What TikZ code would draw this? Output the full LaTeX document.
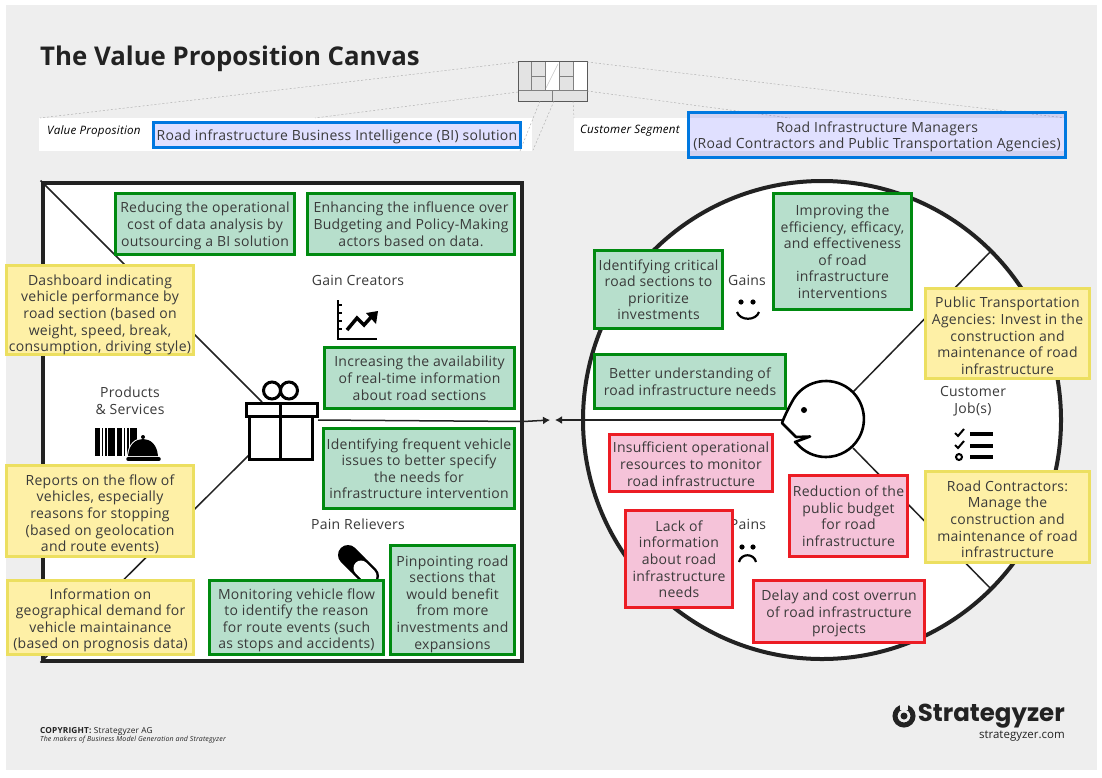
\documentclass[tikz,border=0pt]{standalone}
\usepackage{fontspec}
\setmainfont[LetterSpace=1.9]{Open Sans}
\newfontfamily\plainfont{Open Sans}
\newfontfamily\logofont{Poppins}
\usetikzlibrary{arrows.meta}
\definecolor{canvasbg}{HTML}{EEEEEE}
\definecolor{ink}{HTML}{3A3A3A}
\definecolor{heavy}{HTML}{222222}
\definecolor{gborder}{HTML}{008A10}
\definecolor{gfill}{HTML}{B7DFCC}
\definecolor{yborder}{HTML}{ECDF60}
\definecolor{yfill}{HTML}{FEF0A6}
\definecolor{rborder}{HTML}{EC1C24}
\definecolor{rfill}{HTML}{F5C3D9}
\definecolor{bborder}{HTML}{0078E0}
% name, x0, y0, x1, y1, style, text shift, text
\newcommand{\bx}[8]{\node[#6,minimum width={(#4-#2-3)*1pt},minimum height={(#5-#3-3)*1pt}] (#1) at ({(#2+#4)/2},{(#3+#5)/2}) {\raisebox{\dimexpr-#7pt-5.8pt\relax}[0pt][0pt]{\begin{tabular}{@{}c@{}}#8\end{tabular}}};}
\tikzset{
 x=1pt,y=-1pt,
 boxbase/.style={draw,line width=3pt,inner sep=0pt,text=ink,font=\fontsize{14}{16.6}\selectfont,rectangle},
 greenbox/.style={boxbase,draw=gborder,fill=gfill},
 yellowbox/.style={boxbase,draw=yborder,fill=yfill},
 redbox/.style={boxbase,draw=rborder,fill=rfill},
 bluebox/.style={boxbase,draw=bborder,fill=blue,fill opacity=.12,draw opacity=1,text opacity=1},
 lab/.style={align=center,inner sep=0pt,text=ink,font=\fontsize{14}{16.6}\selectfont},
 seglab/.style={anchor=west,inner sep=0pt,font=\fontsize{11.6}{13}\itshape\selectfont,text=black},
 divider/.style={draw=heavy,line width=1.5pt},
 ghost/.style={draw=gray!70,line width=.4pt,dashed,dash pattern=on 2pt off 2pt},
 icon/.style={draw=black,line width=3pt},
}
\begin{document}
\begin{tikzpicture}
\useasboundingbox (0,0) rectangle (1102,777);
\fill[white] (0,0) rectangle (1102,777);
\fill[canvasbg] (6,5) rectangle (1097,770);
% title
\node[anchor=west,inner sep=0pt,font=\plainfont\fontsize{25.8}{30}\bfseries\selectfont,text=heavy] (title) at (40,59) {The Value Proposition Canvas};
% segment strips
\fill[white] (39,118) rectangle (532,151);
\fill[white] (574,118) rectangle (1066,151);
% mini canvas
\fill[canvasbg!90!gray] (518,61) rectangle (587,101);
\fill[white] (545,61) rectangle (559,90);
\fill[white] (573,61) rectangle (587,90);
\draw[gray,line width=.7pt] (531.5,61) -- (531.5,90) (545,61) -- (545,90) (559,61) -- (559,90) (573,61) -- (573,90) (518,90) -- (587,90) (531.5,76) -- (545,76) (559,76) -- (573,76) (552,101) -- (552,90);
\draw[gray!45,line width=.5pt] (546,88) -- (558,64);
\draw[black!65,line width=.8pt] (518,61) rectangle (587,101);
\coordinate (mNW) at (518,62);
\coordinate (mSW) at (518,92);
\coordinate (mNE) at (587,62);
\coordinate (mSE) at (587,91);
\coordinate (mA) at (540,101);
\coordinate (mB) at (554,101);
\coordinate (mC) at (573,101);
\coordinate (vpA) at (40,118);
\coordinate (vpB) at (315,118);
\coordinate (vpC) at (520,151);
\coordinate (vpD) at (533,150);
\coordinate (csA) at (574,118);
\coordinate (csB) at (1066,118);
\coordinate (csC) at (790,118);
\draw[ghost] (mNW) -- (vpA) (mSW) -- (vpB) (mA) -- (vpC) (mB) -- (vpD) (mC) -- (csA) (mNE) -- (csB) (mSE) -- (csC);
\node[seglab] (vplabel) at (47,131) {Value Proposition};
\node[seglab] (cslabel) at (580,131) {Customer Segment};
\bx{vpname}{152}{121}{522}{149}{bluebox}{0}{Road infrastructure Business Intelligence (BI) solution}
\bx{csname}{687}{111}{1067}{159}{bluebox}{0}{Road Infrastructure Managers\\(Road Contractors and Public Transportation Agencies)}
% main shapes
\node[draw=heavy,fill=white,line width=4pt,minimum width=479pt,minimum height=478pt,inner sep=0pt] (vp) at (282,421.5) {};
\node[circle,draw=heavy,fill=white,line width=4pt,minimum size=478pt,inner sep=0pt] (cs) at (822,420) {};
% gift anchors
\coordinate (giftNW) at (262,402);
\coordinate (giftSW) at (249,455);
\coordinate (giftE) at (318,420);
\coordinate (faceW) at (782,420);
\coordinate (tipL) at (550,420);
\coordinate (tipR) at (555,420);
\coordinate (jobNE) at (992,250);
\coordinate (jobSE) at (992,590);
\coordinate (faceNE) at (853,392);
\coordinate (faceSE) at (853,448);
\draw[divider] (vp.north west) -- (giftNW);
\draw[divider] (vp.south west) -- (giftSW);
\draw[divider] (giftE) -- (vp.east);
\draw[divider] (faceNE) -- (jobNE);
\draw[divider] (faceSE) -- (jobSE);
\draw[divider,-{Latex[length=7pt,width=8pt]}] (vp.east) -- (tipL);
\draw[divider,-{Latex[length=7pt,width=8pt]}] (faceW) -- (tipR);
% gift icon
\draw[icon,fill=white] (249,416) rectangle (312,459);
\draw[icon] (280.5,416) -- (280.5,459);
\draw[icon,fill=white] (246,403) rectangle (317,416);
\draw[icon] (280.5,403) -- (280.5,416);
\draw[icon] (272,390.5) circle[radius=8.5pt] (289,390.5) circle[radius=8.5pt];
% labels
\node[lab] (gc) at (358,280) {Gain Creators};
\node[lab] (ps) at (130,401) {Products\\\& Services};
\node[lab] (pr) at (358,524) {Pain Relievers};
\node[lab] (ga) at (747,280) {Gains};
\node[lab] (pa) at (748,524) {Pains};
\node[lab] (cj) at (973,401) {Customer\\Job(s)};
% chart icon
\draw[black,line width=2pt] (338,300) -- (338,339) -- (377,339);
\draw[black,line width=1.4pt] (338,305) -- (342,305) (338,313) -- (342,313) (338,321) -- (342,321) (338,329) -- (342,329);
\draw[black,line width=3.5pt] (347,330) -- (357,318) -- (364,325) -- (373,315);
\fill[black] (378,311) -- (366,313) -- (376,324) -- cycle;
% barcode + cloche icon
\foreach \xa/\xb in {95/100,101.5/103,105/107,108/115,117/122,123.5/125,127/128.5,130/137}{\fill[black] (\xa,428) rectangle (\xb,456);}
\draw[white,line width=2pt,fill=black] (128,456) .. controls (129,444) and (136,439) .. (143,439) .. controls (150,439) and (157,444) .. (158,456) -- cycle;
\fill[black] (128,456) .. controls (129,444) and (136,439) .. (143,439) .. controls (150,439) and (157,444) .. (158,456) -- cycle;
\fill[black] (143,437) circle[radius=2pt];
\draw[black,line width=3.5pt,line cap=round] (128,459) -- (159,459);
% pill icon
\draw[black,line width=20pt,line cap=round] (348,555) -- (358,565);
\draw[black,line width=20pt,line cap=round] (360,567) -- (369,576);
\draw[white,line width=15pt,line cap=round] (361,568) -- (369,576);
% smile
\fill[black] (741,302) circle[radius=2.6pt] (753,302) circle[radius=2.6pt];
\draw[black,line width=2.2pt] (737,312) .. controls (740,321) and (756,321) .. (759,312);
% frown
\fill[black] (742,547) circle[radius=2.6pt] (753,547) circle[radius=2.6pt];
\draw[black,line width=2.2pt] (739,562) .. controls (741,553) and (754,553) .. (756,562);
% checklist
\draw[black,line width=2pt] (955,433) -- (958,436) -- (964,429) (955,445) -- (958,448) -- (964,441);
\draw[black,line width=2pt] (959,457) circle[radius=3pt];
\draw[black,line width=4pt] (970,434) -- (993,434) (970,446) -- (993,446) (970,457) -- (993,457);
% face
\draw[black,fill=white,line width=2.6pt,line join=round] (793,400) arc[start angle=150,end angle=-140,radius=38pt] -- (795,442) -- (810,436.5) -- (796,437) -- (787,428) -- (782,423) .. controls (785,415) and (788,409) .. cycle;
\fill[black] (804,410) circle[radius=3pt];
% green boxes
\bx{g1}{114}{192}{296}{256}{greenbox}{0}{Reducing the operational\\cost of data analysis by\\outsourcing a BI solution}
\bx{g2}{306}{192}{516}{256}{greenbox}{0}{Enhancing the influence over\\Budgeting and Policy-Making\\actors based on data.}
\bx{g3}{323}{346}{516}{410}{greenbox}{0}{Increasing the availability\\of real-time information\\about road sections}
\bx{g4}{322}{427}{516}{510}{greenbox}{0}{Identifying frequent vehicle\\issues to better specify\\the needs for\\infrastructure intervention}
\bx{g5}{208}{579}{385}{656}{greenbox}{1}{Monitoring vehicle flow\\to identify the reason\\for route events (such\\as stops and accidents)}
\bx{g6}{389}{544}{516}{656}{greenbox}{2}{Pinpointing road\\sections that\\would benefit\\from more\\investments and\\expansions}
\bx{g7}{772}{192}{913}{311}{greenbox}{0}{Improving the\\efficiency, efficacy,\\and effectiveness\\of road\\infrastructure\\interventions}
\bx{g8}{593}{249}{724}{330}{greenbox}{0}{Identifying critical\\road sections to\\prioritize\\investments}
\bx{g9}{593}{353}{787}{410}{greenbox}{0}{Better understanding of\\road infrastructure needs}
% yellow boxes
\bx{y1}{5}{264}{195}{356}{yellowbox}{3}{Dashboard indicating\\vehicle performance by\\road section (based on\\weight, speed, break,\\consumption, driving style)}
\bx{y2}{5}{464}{195}{558}{yellowbox}{2}{Reports on the flow of\\vehicles, especially\\reasons for stopping\\(based on geolocation\\and route events)}
\bx{y3}{6}{579}{195}{656}{yellowbox}{1}{Information on\\geographical demand for\\vehicle maintainance\\(based on prognosis data)}
\bx{y4}{924}{287}{1091}{380}{yellowbox}{2}{Public Transportation\\Agencies: Invest in the\\construction and\\maintenance of road\\infrastructure}
\bx{y5}{924}{470}{1091}{564}{yellowbox}{2}{Road Contractors:\\Manage the\\construction and\\maintenance of road\\infrastructure}
% red boxes
\bx{r1}{608}{433}{774}{493}{redbox}{1}{Insufficient operational\\resources to monitor\\road infrastructure}
\bx{r2}{788}{474}{909}{558}{redbox}{0}{Reduction of the\\public budget\\for road\\infrastructure}
\bx{r3}{624}{509}{734}{609}{redbox}{0}{Lack of\\information\\about road\\infrastructure\\needs}
\bx{r4}{752}{579}{926}{644}{redbox}{0}{Delay and cost overrun\\of road infrastructure\\projects}
% copyright
\node[anchor=west,inner sep=0pt,font=\fontsize{8.3}{9}\selectfont,text=heavy] (copy) at (40,731) {\textbf{COPYRIGHT:} Strategyzer AG};
\node[anchor=west,inner sep=0pt,font=\fontsize{7}{9}\itshape\selectfont,text=heavy] (makers) at (40,740) {The makers of Business Model Generation and Strategyzer};
% logo
\draw[heavy,line width=5pt] (904,716) circle[radius=9pt];
\fill[heavy] (904,716) circle[radius=3.5pt];
\fill[canvasbg] (900,704) rectangle (908,710);
\node[anchor=east,inner sep=0pt,font=\logofont\fontsize{24.5}{28}\bfseries\selectfont,text=heavy] (logo) at (1065,716) {Strategyzer};
\node[anchor=east,inner sep=0pt,font=\plainfont\fontsize{11.5}{14}\selectfont,text=heavy] (url) at (1065,736) {strategyzer.com};
\end{tikzpicture}
\end{document}
